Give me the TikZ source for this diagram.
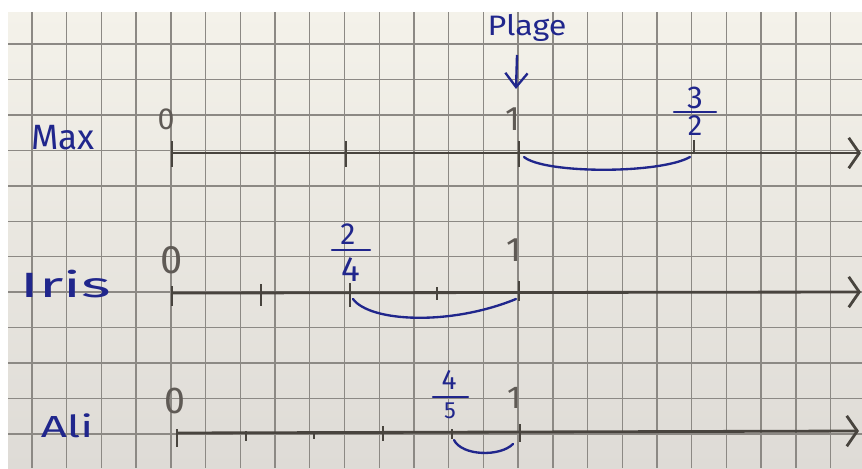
\documentclass[tikz,border=0pt]{standalone}
\usepackage{fontspec}
\setmainfont{Fira Sans}
\usetikzlibrary{arrows.meta}
\definecolor{ink}{RGB}{32,38,140}
\definecolor{pencil}{RGB}{95,90,85}
\definecolor{gridc}{RGB}{140,137,132}
\definecolor{papertop}{RGB}{244,242,234}
\definecolor{paperbot}{RGB}{222,219,214}
\definecolor{axisc}{RGB}{72,68,62}
\newcommand{\fs}[1]{\fontsize{#1}{#1}\selectfont}
\begin{document}
\begin{tikzpicture}[x=0.03cm,y=-0.03cm,
  gridline/.style={gridc,line width=1.2pt},
  axis/.style={axisc,line width=2.4pt,-{Straight Barb[length=9pt,width=26pt]}},
  tickmark/.style={axisc,line width=2.4pt},
  arcline/.style={ink,line width=2pt,line cap=round},
  pname/.style={ink,inner sep=0pt},
  num/.style={pencil,inner sep=0pt},
  fracnum/.style={ink,inner sep=0pt},
  fbar/.style={ink,line width=2pt,line cap=round},
]
\useasboundingbox (0,0) rectangle (862,468);
\fill[white] (0,0) rectangle (862,468);
\shade[top color=papertop,bottom color=paperbot] (8,12) rectangle (862,468);
% grid
\foreach \k in {0,...,23} \draw[gridline] ({32+34.72*\k},12) -- ({32+34.72*\k},468);
\foreach \k in {0,...,11} \draw[gridline] (8,{44+35.45*\k}) -- (862,{44+35.45*\k});

% ---------- Max ----------
\node[pname,font=\fs{30}] (max) at (63,138) {Max};
\coordinate (m0) at (172,153);
\coordinate (mend) at (861,153);
\draw[axis] (m0) -- (mend);
\foreach \x in {172,346,519} \draw[tickmark] (\x,141) -- (\x,167);
\draw[tickmark] (694,140) -- (694,154);
\node[num,font=\fs{26}] (max0) at (166,119) {0};
\node[num,font=\fs{29}] (max1) at (513,119) {1};
\node[fracnum,font=\fs{27}] (maxn) at (695,98) {3};
\node[fracnum,font=\fs{25}] (maxd) at (695,126) {2};
\draw[fbar] (674,112) -- (716,112);
\draw[arcline] (524,157) .. controls (545,174) and (660,174) .. (690,157);
% Plage
\node[ink,inner sep=0pt,font=\fs{24}] (plage) at (527,28) {\scalebox{1.15}[1]{Plage}};
\coordinate (pa) at (517,55);
\coordinate (pb) at (516,89);
\draw[ink,line width=2pt,-{Straight Barb[length=12pt,width=19pt]}] (pa) -- (pb);

% ---------- Iris ----------
\node[pname,font=\fs{30}] (iris) at (66,284) {\scalebox{1.8}[1]{Iris}};
\coordinate (i0) at (172,293);
\coordinate (iend) at (861,292);
\draw[axis] (i0) -- (iend);
\draw[tickmark] (172,286) -- (172,306);
\draw[tickmark] (261,284) -- (261,306);
\draw[tickmark] (350,283) -- (350,307);
\draw[tickmark] (437,287) -- (437,300);
\draw[tickmark] (519,281) -- (519,301);
\node[num,font=\fs{34}] (iris0) at (172,260) {0};
\node[num,font=\fs{29}] (iris1) at (514,250) {1};
\node[fracnum,font=\fs{26}] (irisn) at (348,234) {2};
\node[fracnum,font=\fs{30}] (irisd) at (351,270) {4};
\draw[fbar] (332,250) -- (370,250);
\draw[arcline] (353,299) .. controls (370,322) and (450,326) .. (516,299);

% ---------- Ali ----------
\node[pname,font=\fs{26}] (ali) at (67,426) {\scalebox{1.5}[1]{Ali}};
\coordinate (a0) at (177,433);
\coordinate (aend) at (859,431);
\draw[axis] (a0) -- (aend);
\draw[tickmark] (177,429) -- (177,447);
\draw[tickmark] (246,431) -- (246,441);
\draw[tickmark] (314,432) -- (314,439);
\draw[tickmark] (383,426) -- (383,441);
\draw[tickmark] (452,429) -- (452,439);
\draw[tickmark] (520,424) -- (520,442);
\node[num,font=\fs{32}] (ali0) at (175,401) {0};
\node[num,font=\fs{27}] (ali1) at (514,398) {1};
\node[fracnum,font=\fs{24}] (alin) at (449,380) {4};
\node[fracnum,font=\fs{20}] (alid) at (450,411) {5};
\draw[fbar] (433,397) -- (468,397);
\draw[arcline] (454,440) .. controls (462,456) and (500,457) .. (513,444);
\end{tikzpicture}
\end{document}
